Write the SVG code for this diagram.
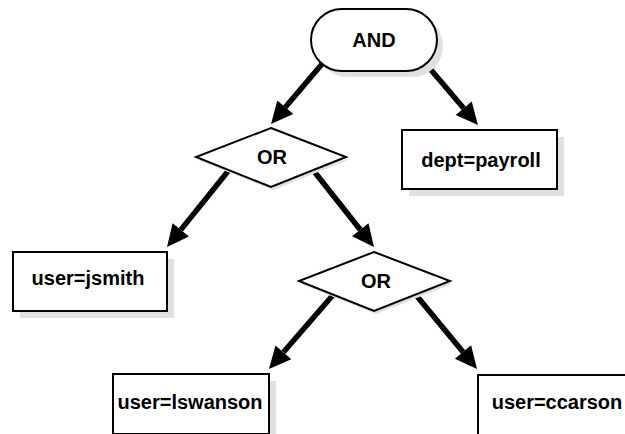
<svg xmlns="http://www.w3.org/2000/svg" width="625" height="434" viewBox="0 0 625 434">
<style>
.shadow{fill:#e0e0e0;stroke:none}
.node{fill:#ffffff;stroke:#000000;stroke-width:2}
.lbl{font-family:"Liberation Sans",Arial,Helvetica,sans-serif;font-weight:bold;font-size:20px;fill:#000000;text-anchor:middle}
.edge{stroke:#000000;stroke-width:5.5;fill:none}
</style>
<defs>
<marker id="ah" markerUnits="userSpaceOnUse" markerWidth="22" markerHeight="21" viewBox="0 -10.5 22 21" refX="0" refY="0" orient="auto" overflow="visible">
<path d="M0,-10.5 L22,0 L0,10.5 z" fill="#000000"/>
</marker>
</defs>
<rect width="625" height="434" fill="#ffffff"/>
<g id="connectors">
<line class="edge" x1="322" y1="64" x2="285.3" y2="107.2" marker-end="url(#ah)"/>
<line class="edge" x1="426" y1="64" x2="463.7" y2="108.3" marker-end="url(#ah)"/>
<line class="edge" x1="229" y1="170" x2="180.8" y2="229.9" marker-end="url(#ah)"/>
<line class="edge" x1="313" y1="170" x2="360.3" y2="229.8" marker-end="url(#ah)"/>
<line class="edge" x1="333" y1="295" x2="283.4" y2="352.3" marker-end="url(#ah)"/>
<line class="edge" x1="416" y1="295" x2="463" y2="352" marker-end="url(#ah)"/>
</g>
<g id="and">
<rect class="shadow" x="317" y="15" width="126" height="62" rx="31" ry="31"/>
<rect class="node" x="311" y="9" width="126" height="62" rx="31" ry="31" stroke-width="2.5"/>
<text class="lbl" x="374" y="47">AND</text>
</g>
<g id="or1">
<polygon class="shadow" points="273,131 348,160 273,190 198,160"/>
<polygon class="node" points="271,128 346,157 271,187 196,157"/>
<text class="lbl" x="272" y="164">OR</text>
</g>
<g id="dept">
<rect class="shadow" x="409" y="137" width="155" height="59"/>
<rect class="node" x="402" y="130" width="155" height="59"/>
<text class="lbl" x="481" y="167">dept=payroll</text>
</g>
<g id="jsmith">
<rect class="shadow" x="20" y="259" width="154" height="59"/>
<rect class="node" x="13" y="252" width="154" height="59"/>
<text class="lbl" x="88" y="285">user=jsmith</text>
</g>
<g id="or2">
<polygon class="shadow" points="376,255 452,284 376,314 301,284"/>
<polygon class="node" points="374,252 450,281 374,311 299,281"/>
<text class="lbl" x="376" y="288">OR</text>
</g>
<g id="lswanson">
<rect class="shadow" x="120" y="381" width="156" height="60"/>
<rect class="node" x="113" y="374" width="156" height="60"/>
<text class="lbl" x="190" y="409">user=lswanson</text>
</g>
<g id="ccarson">
<rect class="shadow" x="485" y="382" width="156" height="60"/>
<rect class="node" x="478" y="375" width="156" height="60"/>
<text class="lbl" x="557" y="409">user=ccarson</text>
</g>
</svg>
